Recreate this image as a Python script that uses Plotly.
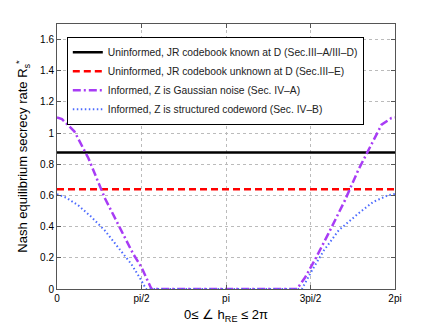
import numpy as np
import plotly.graph_objects as go

# angle of h_RE in radians
x_flat = [0, 2 * np.pi]
known_rate = [0.875, 0.875]
unknown_rate = [0.64, 0.64]

x_gauss = [0.0, 0.092, 0.325, 0.584, 0.893, 1.17, 1.415, 1.571, 1.756,
           2.5, 3.5, 4.461, 4.614, 4.799, 5.045, 5.354, 5.60, 5.817, 6.033, 6.218, 6.283]
gauss_rate = [1.10, 1.09, 1.01, 0.839, 0.58, 0.387, 0.226, 0.139, 0.0,
              0.0, 0.0, 0.0, 0.075, 0.19, 0.355, 0.57, 0.763, 0.914, 1.054, 1.097, 1.10]

x_struct = [0.0, 0.166, 0.394, 0.64, 0.887, 1.133, 1.379, 1.534, 1.656,
            2.5, 3.5, 4.552, 4.738, 4.96, 5.236, 5.60, 5.88, 6.16, 6.283]
struct_rate = [0.608, 0.587, 0.537, 0.462, 0.376, 0.268, 0.161, 0.075, 0.0,
               0.0, 0.0, 0.0, 0.118, 0.247, 0.376, 0.484, 0.559, 0.602, 0.61]

x_tickvals = [0, np.pi / 2, np.pi, 3 * np.pi / 2, 2 * np.pi]
x_ticktext = ["0", "pi/2", "pi", "3pi/2", "2pi"]
y_tickvals = [0, 0.2, 0.4, 0.6, 0.8, 1, 1.2, 1.4, 1.6]
y_ticktext = ["0", "0.2", "0.4", "0.6", "0.8", "1", "1.2", "1.4", "1.6"]

fig = go.Figure()
fig.add_trace(go.Scatter(x=x_flat, y=known_rate, mode="lines",
                         name="Uninformed, JR codebook known at D (Sec.III\u2013A/III\u2013D)",
                         line=dict(color="black", width=2.5)))
fig.add_trace(go.Scatter(x=x_flat, y=unknown_rate, mode="lines",
                         name="Uninformed, JR codebook unknown at D (Sec.III\u2013E)",
                         line=dict(color="#ff0000", width=2.5, dash="7px,4px")))
fig.add_trace(go.Scatter(x=x_gauss, y=gauss_rate, mode="lines",
                         name="Informed, Z is Gaussian noise (Sec. IV\u2013A)",
                         line=dict(color="#a83cf5", width=2.5, dash="8px,3px,2px,3px")))
fig.add_trace(go.Scatter(x=x_struct, y=struct_rate, mode="lines",
                         name="Informed, Z is structured codeword (Sec. IV\u2013B)",
                         line=dict(color="#4d6bff", width=2, dash="1.5px,2.5px")))

axis_common = dict(
    showline=True, linecolor="#555555", linewidth=1, mirror="ticks",
    ticks="inside", ticklen=4, tickcolor="#555555",
    showgrid=True, gridcolor="#bbbbbb", griddash="dot", gridwidth=1,
    zeroline=False, automargin=False,
    tickfont=dict(family="Liberation Sans, Arial", size=10, color="black"),
)

fig.update_xaxes(range=[0, 2 * np.pi], tickvals=x_tickvals, ticktext=x_ticktext,
                 **axis_common)
fig.update_yaxes(range=[0, 1.7], tickvals=y_tickvals, ticktext=y_ticktext,
                 title=dict(text="Nash equilibrium secrecy rate R<sub>s</sub><sup>*</sup>", standoff=9,
                            font=dict(family="Liberation Sans, Arial", size=13, color="black")),
                 **axis_common)

# x title as an annotation so it can sit closer to the tick labels
fig.add_annotation(text="0\u2264 \u2220 h<sub>RE</sub> \u2264 2\u03c0",
                   xref="paper", yref="paper", x=0.5, y=-0.06,
                   xanchor="center", yanchor="top", showarrow=False,
                   font=dict(family="Liberation Sans, Arial", size=13, color="black"))

# the page body adds an 8px offset, so the figure is a bit smaller than the window
fig.update_layout(
    width=428, height=320,
    margin=dict(l=49, r=41, t=16, b=39),
    plot_bgcolor="white", paper_bgcolor="white",
    legend=dict(x=0.029, y=0.952, xanchor="left", yanchor="top",
                bgcolor="white", bordercolor="black", borderwidth=1,
                font=dict(family="Liberation Sans, Arial", size=10.3, color="#222222"),
                itemwidth=30, tracegroupgap=0),
)

fig.write_html("out.html")
